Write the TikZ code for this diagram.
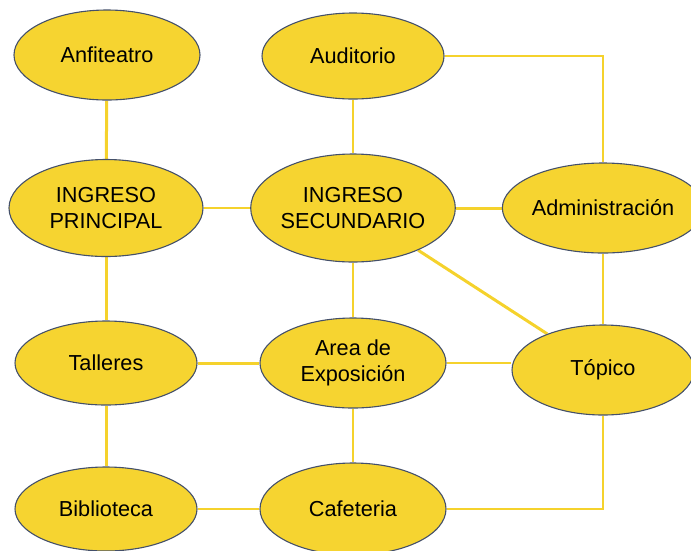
\documentclass[tikz,border=0pt]{standalone}
\usepackage{fontspec}
\setmainfont{Liberation Sans}
\usetikzlibrary{shapes.geometric,backgrounds}
\definecolor{nodefill}{HTML}{F6D430}
\definecolor{nodeline}{HTML}{44506A}
\definecolor{linkcol}{HTML}{F5D22C}
\tikzset{
  place/.style={ellipse, draw=nodeline, line width=1.1pt, fill=nodefill, inner sep=0pt,
    align=center, font=\fontsize{21.7}{26}\selectfont, text=black},
  thinlink/.style={draw=linkcol, line width=1.5pt},
  thicklink/.style={draw=linkcol, line width=3pt},
}
\begin{document}
\begin{tikzpicture}[x=1pt,y=-1pt]
\useasboundingbox (0,0) rectangle (691,550);
\clip (0,0) rectangle (691,550);
% nodes
\node[place, minimum width=186pt, minimum height=90pt] (anf) at (107,55) {Anfiteatro};
\node[place, minimum width=182pt, minimum height=86pt] (aud) at (353,56) {Auditorio};
\node[place, minimum width=194pt, minimum height=97pt] (ip) at (106,208) {INGRESO\\PRINCIPAL};
\node[place, minimum width=202pt, minimum height=108pt] (is) at (353,208) {INGRESO\\SECUNDARIO};
\node[place, minimum width=182pt, minimum height=90pt] (adm) at (603,208) {Administración};
\node[place, minimum width=182pt, minimum height=84pt] (tal) at (106,363) {Talleres};
\node[place, minimum width=186pt, minimum height=90pt] (area) at (353,363) {Area de\\Exposición};
\node[place, minimum width=182pt, minimum height=90pt] (top) at (603,370) {Tópico};
\node[place, minimum width=182pt, minimum height=84pt] (bib) at (106,509) {Biblioteca};
\node[place, minimum width=186pt, minimum height=92pt] (caf) at (353,509) {Cafeteria};
% connectors
\begin{scope}[on background layer]
\draw[thicklink] (anf) -- (ip);
\draw[thicklink] (ip) -- (tal);
\draw[thicklink] (tal) -- (bib);
\draw[thicklink] (tal) -- (area);
\draw[thicklink] (is) -- (adm);
\draw[thicklink] (is) -- (top);
\draw[thinlink] (ip) -- (is);
\draw[thinlink] (aud) -- (is);
\draw[thinlink] (is) -- (area);
\draw[thinlink] (area) -- (caf);
\draw[thinlink] (bib) -- (caf);
\draw[thinlink] (adm) -- (top);
\draw[thinlink] (area.east) -- (area.east -| top.west);
\draw[thinlink] (aud.east) -| (adm.north);
\draw[thinlink] (caf.east) -| (top.south);
\end{scope}
\end{tikzpicture}
\end{document}
